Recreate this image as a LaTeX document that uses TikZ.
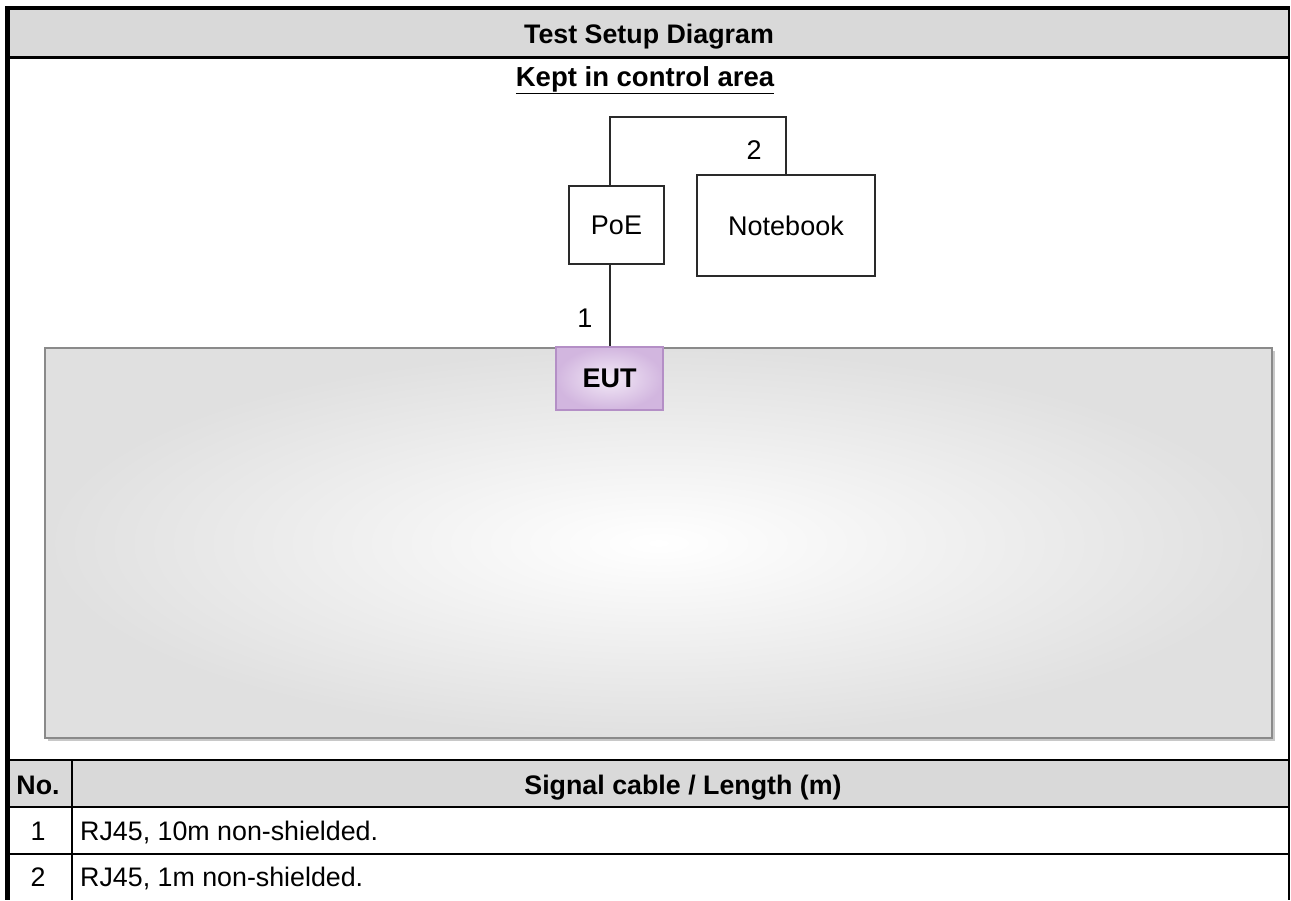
\documentclass[tikz,border=0pt]{standalone}
\usepackage{fontspec}
\setmainfont{Liberation Sans}
\definecolor{hdr}{HTML}{D9D9D9}
\definecolor{panelout}{HTML}{E0E0E0}
\definecolor{panelline}{HTML}{8A8A8A}
\definecolor{panelshadow}{HTML}{C8C8C8}
\definecolor{eutin}{HTML}{F3EAF7}
\definecolor{eutout}{HTML}{D2B6DF}
\definecolor{eutline}{HTML}{B48FC6}
\definecolor{wire}{HTML}{2A2A2A}
\tikzset{
  devbox/.style={draw=wire, line width=2pt, fill=white, inner sep=0pt, font=\fontsize{27}{32}\selectfont},
  wirestyle/.style={draw=wire, line width=2pt},
  tabtext/.style={font=\fontsize{26.8}{30}\selectfont, inner sep=0pt, anchor=base},
  tabhead/.style={font=\fontsize{26.8}{30}\selectfont\bfseries, inner sep=0pt, anchor=base},
  cablelbl/.style={font=\fontsize{27}{32}\selectfont, inner sep=0pt},
}
\begin{document}
\begin{tikzpicture}[x=1pt,y=-1pt]
\useasboundingbox (0,0) rectangle (1291,900);
\fill[white] (0,0) rectangle (1291,900);
% header band
\fill[hdr] (10,10) rectangle (1288,56);
\node[tabhead] (title) at (649,43) {Test Setup Diagram};
% table header band
\fill[hdr] (10,760) rectangle (1288,807);
% panel
\fill[panelshadow] (48,351) rectangle (1275,741);
\shade[inner color=white, outer color=panelout] (45,348) rectangle (1272,738);
\draw[panelline, line width=1.8pt] (45,348) rectangle (1272,738);
% frame lines
\draw[black, line width=4pt] (5,8) -- (1289,8);
\draw[black, line width=5pt] (7.5,6) -- (7.5,900);
\draw[black, line width=2pt] (1288.5,6) -- (1288.5,900);
\draw[black, line width=3pt] (9,57.5) -- (1289,57.5);
\draw[black, line width=2pt] (9,760) -- (1289,760);
\draw[black, line width=2.5pt] (9,807) -- (1289,807);
\draw[black, line width=2.5pt] (9,854) -- (1289,854);
\draw[black, line width=2pt] (72,760) -- (72,900);
% diagram
\node[font=\fontsize{27.5}{32}\selectfont\bfseries, inner sep=0pt] (kept) at (645,80) {\underline{Kept in control area}};
\node[devbox, minimum width=95pt, minimum height=78pt] (poe) at (616.5,225) {PoE};
\node[devbox, minimum width=178pt, minimum height=101pt] (nb) at (786,225.5) {Notebook};
\node[draw=eutline, line width=1.5pt, inner color=eutin, outer color=eutout, minimum width=107pt, minimum height=63pt, inner sep=0pt, font=\fontsize{27}{32}\selectfont\bfseries] (eut) at (609.5,378.5) {EUT};
\coordinate (bend) at (609.5,117);
\draw[wirestyle] (eut.north |- poe.north) -- (bend) -| (nb.north);
\draw[wirestyle] (eut.north |- poe.south) -- (eut.north);
\node[cablelbl] (l1) at (585,318) {1};
\node[cablelbl] (l2) at (754,150) {2};
% table text
\node[tabhead] (hno) at (38,794) {No.};
\node[tabhead] (hsig) at (683,794) {Signal cable / Length (m)};
\node[tabtext] (n1) at (38,840) {1};
\node[tabtext, anchor=base west] (t1) at (80,840) {RJ45, 10m non-shielded.};
\node[tabtext] (n2) at (38,886) {2};
\node[tabtext, anchor=base west] (t2) at (80,886) {RJ45, 1m non-shielded.};
\end{tikzpicture}
\end{document}
